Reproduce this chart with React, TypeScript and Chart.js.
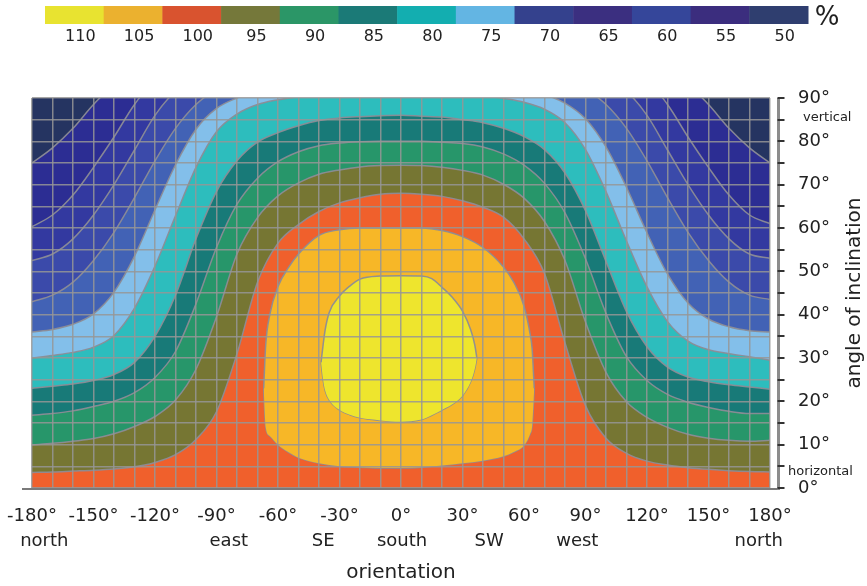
import React, { useEffect, useRef } from 'react';
import { Chart, registerables } from 'chart.js';

Chart.register(...registerables);

// ---------- data ----------
const ORIENTATION = [
  -180, -170, -160, -150, -140, -130, -120, -110, -100, -90, -80, -70, -60, -50, -40, -30, -20, -10, 0,
  10, 20, 30, 40, 50, 60, 70, 80, 90, 100, 110, 120, 130, 140, 150, 160, 170, 180,
];

// colour-scale levels (%), left to right as in the legend bar
const LEVELS = [110, 105, 100, 95, 90, 85, 80, 75, 70, 65, 60, 55, 50];
const LEGEND_COLORS = [
  '#e8e330', '#ebb12f', '#d9532f', '#75783a', '#2b9667', '#1b7a77', '#13aeb0',
  '#63b5e3', '#34418d', '#3b2f80', '#35469a', '#3b2d7e', '#2f3e6f',
];
const BAND_COLORS = [
  '#eee52d', '#f7b727', '#f0602c', '#767633', '#27966a', '#187a78', '#2dbdbd',
  '#83bfea', '#4262b5', '#3b4aaa', '#3339a0', '#2c2d93', '#253461',
];

// upper boundary (inclination °) of the region with yield >= level, per orientation
const B55 = [75, 78.5, 83, 88.5, 93, 95, 95, 95, 95, 95, 95, 95, 95, 95, 95, 95, 95, 95, 95,
  95, 95, 95, 95, 95, 95, 95, 95, 95, 95, 95, 95, 95, 93, 88.5, 83, 78.5, 75];
const B60 = [60.3, 63, 67.6, 74, 81, 88.5, 94, 95, 95, 95, 95, 95, 95, 95, 95, 95, 95, 95, 95,
  95, 95, 95, 95, 95, 95, 95, 95, 95, 95, 95, 94, 88.5, 81, 74, 67.6, 63, 61];
const B65 = [52.5, 54, 57.5, 63, 70, 78, 86, 91.5, 94, 95, 95, 95, 95, 95, 95, 95, 95, 95, 95,
  95, 95, 95, 95, 95, 95, 95, 95, 95, 94, 91.5, 86, 78, 70, 63, 57.5, 54, 53];
const B70 = [43, 44.5, 47.5, 52.5, 59, 67, 75.5, 83, 88.5, 92, 94, 95, 95, 95, 95, 95, 95, 95, 95,
  95, 95, 95, 95, 95, 95, 95, 94, 92, 88.5, 83, 75.5, 67, 59, 52.5, 47.5, 44.5, 43.5];
const B75 = [36, 36.6, 37.8, 40.2, 45.2, 53.5, 64.2, 74.6, 82.8, 87.6, 90, 91.5, 92.5, 93, 93.5, 93.8, 94, 94, 94,
  94, 93.9, 93.6, 93.2, 92.7, 92, 90.8, 88.8, 85.2, 78.7, 69.4, 58.9, 49.4, 42.7, 39, 37.2, 36.3, 36];
const B80 = [30, 30.6, 31.3, 32.5, 35.2, 41.5, 51.2, 62.8, 74, 82.2, 86.3, 88.5, 89.6, 90.3, 91, 91.5, 91.8, 92, 92,
  91.9, 91.6, 91.2, 90.6, 89.9, 89, 87.4, 84.3, 78.1, 68.4, 57, 46.4, 38.4, 33.9, 31.9, 31, 30.3, 29.5];
const B85 = [23, 23.5, 24, 24.8, 26.2, 29, 35, 44.5, 57.5, 68.4, 75.5, 79.8, 82, 83.6, 84.8, 85.4, 85.7, 85.9, 86,
  85.8, 85.6, 85, 84.3, 83, 81.1, 78.1, 72.7, 64, 52.3, 40.7, 32.6, 27.9, 25.6, 24.5, 23.8, 23.3, 22.8];
const B90 = [16.8, 17.2, 17.8, 18.8, 20, 22, 25.5, 31.5, 42.5, 55.5, 65.5, 71.5, 75.3, 77.6, 79, 79.6, 79.9, 80, 80,
  80, 79.8, 79.5, 78.7, 77.1, 74.5, 70.3, 63.5, 52.9, 40.3, 30.3, 24.8, 21.6, 19.8, 18.6, 17.7, 17.2, 17.2];
const B95 = [9.9, 10.3, 10.8, 11.4, 12.5, 14.2, 16.5, 20.3, 27.4, 39.5, 54, 62.4, 67.4, 70.4, 72.4, 73.4, 74.1, 74.4, 74.5,
  74.4, 74, 73.3, 72.2, 70.1, 66.9, 61.5, 52.5, 38.3, 26.7, 19.9, 16.3, 14, 12.4, 11.5, 11, 10.8, 11];
const B100 = [3.6, 3.7, 3.9, 4.1, 4.4, 4.9, 5.9, 7.7, 11.2, 17.6, 31, 47.5, 56.5, 60.8, 63.8, 65.8, 67, 67.8, 68,
  67.8, 67.3, 66.3, 64.8, 62.5, 57.5, 49.5, 33.5, 19, 11.5, 8, 6.2, 5.3, 4.7, 4.3, 4, 3.8, 3.7];

// closed regions: 105 % and 110 %
const O105 = [-67, -66, -64, -60, -55, -50, -40, -30, -20, -10, 0, 10, 20, 30, 40, 50, 55, 60, 63, 64, 65];
const LO105 = [23, 14, 12, 10, 8.3, 7, 5.7, 5, 4.8, 4.6, 4.6, 4.8, 5.2, 5.7, 6.3, 7.3, 8.3, 9.8, 12.5, 14.5, 23];
const HI105 = [23, 33, 40, 46.5, 50.8, 54, 58.3, 59.6, 60, 60, 60, 60, 59.4, 58, 55.5, 51, 47.5, 42, 35.5, 32, 23];
const O110 = [-39, -38, -37, -35, -30, -25, -20, -10, 0, 10, 15, 20, 25, 30, 34, 36, 37];
const LO110 = [29, 25, 22.5, 20.3, 18, 16.9, 16.2, 15.6, 15.3, 15.8, 16.8, 18, 19.3, 21.3, 24.5, 27.5, 30];
const HI110 = [29, 33, 36.5, 40.5, 44.3, 46.6, 48.2, 48.9, 49, 48.9, 48.3, 46.3, 44, 40.8, 36.5, 33, 30];

const DIRECTION_NAMES = ['north', 'east', 'SE', 'south', 'SW', 'west', 'north'];
const DIRECTION_AT = [-174, -84, -38, 0.5, 43, 86, 174.5];

const FONT = "'DejaVu Sans', Verdana, sans-serif";
const TEXT = '#222222';
const LINE = 'rgba(140,140,150,0.95)';
const GRID = 'rgba(150,150,150,0.85)';

const colorOf = (level: number) => BAND_COLORS[LEVELS.indexOf(level)];

const decor = {
  id: 'decor',
  beforeDatasetsDraw(chart: any) {
    const { ctx, chartArea: a } = chart;
    ctx.save();
    ctx.fillStyle = colorOf(50);
    ctx.fillRect(a.left, a.top, a.right - a.left, a.bottom - a.top);
    ctx.restore();
  },
  afterDraw(chart: any) {
    const { ctx, chartArea: a } = chart;
    const x = chart.scales.x;
    const y = chart.scales.y;
    ctx.save();
    const ax = a.right + 8.5;
    // bottom axis line
    ctx.strokeStyle = '#7a7a7a';
    ctx.lineWidth = 2;
    ctx.beginPath();
    ctx.moveTo(a.left - 10, a.bottom + 1);
    ctx.lineTo(ax, a.bottom + 1);
    ctx.stroke();
    // right axis line with ticks every 5°
    ctx.strokeStyle = '#8c8c8c';
    ctx.lineWidth = 3;
    ctx.beginPath();
    ctx.moveTo(ax, a.top);
    ctx.lineTo(ax, a.bottom + 2);
    ctx.stroke();
    ctx.strokeStyle = '#333333';
    ctx.lineWidth = 2;
    for (let v = 0; v <= 90; v += 5) {
      const py = Math.round(y.getPixelForValue(v));
      ctx.beginPath();
      ctx.moveTo(ax - 1, py);
      ctx.lineTo(ax + 6, py);
      ctx.stroke();
    }
    // compass directions under the tick labels
    ctx.fillStyle = TEXT;
    ctx.font = `18px ${FONT}`;
    ctx.textAlign = 'center';
    ctx.textBaseline = 'middle';
    DIRECTION_NAMES.forEach((name, i) => {
      ctx.fillText(name, x.getPixelForValue(DIRECTION_AT[i]), a.bottom + 53);
    });
    // vertical / horizontal notes
    ctx.font = `13px ${FONT}`;
    ctx.textAlign = 'left';
    ctx.fillText('vertical', a.right + 33, y.getPixelForValue(85.4));
    ctx.fillText('horizontal', a.right + 18, y.getPixelForValue(3.7));
    // y title (reads bottom to top)
    ctx.save();
    ctx.translate(855, (a.top + a.bottom) / 2);
    ctx.rotate(-Math.PI / 2);
    ctx.font = `20px ${FONT}`;
    ctx.textAlign = 'center';
    ctx.fillText('angle of inclination', 0, 0);
    ctx.restore();
    // colour scale bar
    const left = 45;
    const right = 808;
    const w = (right - left) / LEVELS.length;
    LEVELS.forEach((lv, i) => {
      ctx.fillStyle = LEGEND_COLORS[i];
      ctx.fillRect(left + i * w, 6, w + 0.5, 18);
    });
    ctx.fillStyle = TEXT;
    ctx.font = `16px ${FONT}`;
    ctx.textAlign = 'center';
    LEVELS.forEach((lv, i) => {
      ctx.fillText(String(lv), left + i * w + w / 2 + 6, 37);
    });
    ctx.font = `26px ${FONT}`;
    ctx.fillText('%', 827, 18);
    ctx.restore();
  },
};

export default function App() {
  const ref = useRef<HTMLCanvasElement>(null);
  useEffect(() => {
    const canvas = ref.current;
    if (!canvas) return;
    Chart.defaults.font.family = FONT;
    const contour = {
      borderColor: LINE,
      borderWidth: 1.5,
      pointRadius: 0,
      cubicInterpolationMode: 'monotone' as const,
    };
    const arches: [number, number[]][] = [
      [55, B55], [60, B60], [65, B65], [70, B70], [75, B75], [80, B80],
      [85, B85], [90, B90], [95, B95], [100, B100],
    ];
    const blobs: [number, number[], number[], number[]][] = [
      [105, O105, LO105, HI105],
      [110, O110, LO110, HI110],
    ];
    const datasets: any[] = [];
    arches.forEach(([level, vals]) => {
      datasets.push({
        ...contour,
        label: `${level}`,
        data: ORIENTATION.map((o, i) => ({ x: o, y: vals[i] })),
        fill: 'start',
        backgroundColor: colorOf(level),
      });
    });
    blobs.forEach(([level, os, lo, hi]) => {
      datasets.push({ ...contour, label: `${level} low`, data: os.map((o, i) => ({ x: o, y: lo[i] })), fill: false });
      datasets.push({
        ...contour,
        label: `${level}`,
        data: os.map((o, i) => ({ x: o, y: hi[i] })),
        fill: '-1',
        backgroundColor: colorOf(level),
      });
    });
    datasets.forEach((d, k) => (d.order = datasets.length - k));

    const chart = new Chart(canvas, {
      type: 'line',
      data: { datasets },
      options: {
        responsive: false,
        animation: false,
        layout: { padding: { left: 32, top: 98, right: 0, bottom: 0 } },
        plugins: { legend: { display: false }, tooltip: { enabled: false } },
        scales: {
          x: {
            type: 'linear',
            min: -180,
            max: 180,
            grid: { color: GRID, lineWidth: 1.5, drawTicks: false, z: 1 },
            border: { display: false },
            ticks: {
              stepSize: 10,
              autoSkip: false,
              maxRotation: 0,
              padding: 18,
              color: TEXT,
              font: { size: 18, family: FONT },
              callback: (v: any) => (Number(v) % 30 === 0 ? `${v}°` : ''),
            },
            title: {
              display: true,
              text: 'orientation',
              color: TEXT,
              font: { size: 20, family: FONT },
              padding: { top: 0, bottom: 1 },
            },
            afterFit: (s: any) => {
              s.height = 98;
              s.paddingLeft = 0;
              s.paddingRight = 0;
            },
          },
          y: {
            type: 'linear',
            position: 'right',
            min: 0,
            max: 90,
            grid: { color: GRID, lineWidth: 1.5, drawTicks: false, z: 1 },
            border: { display: false },
            ticks: {
              stepSize: 5,
              autoSkip: false,
              padding: 28,
              color: TEXT,
              font: { size: 18, family: FONT },
              callback: (v: any) => (Number(v) % 10 === 0 ? `${v}°` : ''),
            },
            afterFit: (s: any) => {
              s.width = 97;
              s.paddingTop = 0;
              s.paddingBottom = 0;
            },
          },
        },
      },
      plugins: [decor],
    });
    return () => chart.destroy();
  }, []);
  return (
    <div style={{ position: 'absolute', left: 0, top: 0, width: 867, height: 586, background: '#fff' }}>
      <canvas ref={ref} width={867} height={586} style={{ display: 'block' }} />
    </div>
  );
}
